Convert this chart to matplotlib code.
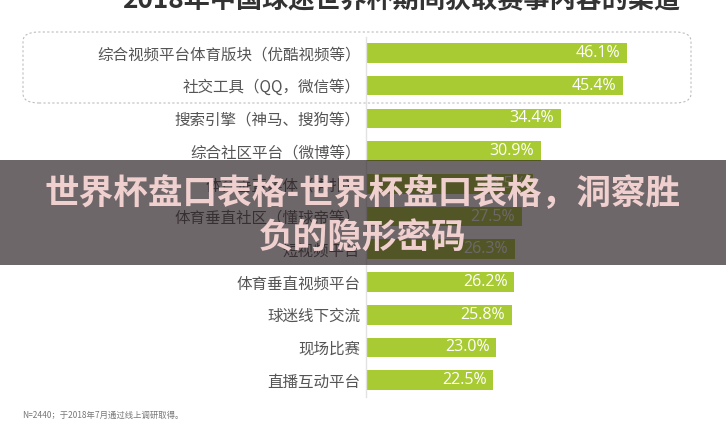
import matplotlib.pyplot as plt
from matplotlib.patches import FancyBboxPatch, Rectangle

plt.rcParams['font.family'] = ['Noto Sans CJK SC', 'DejaVu Sans']

channels = [
    '综合视频平台体育版块（优酷视频等）',
    '社交工具（QQ，微信等）',
    '搜索引擎（神马、搜狗等）',
    '综合社区平台（微博等）',
    '体育垂直媒体（虎扑）',
    '体育垂直社区（懂球帝等）',
    '短视频平台',
    '体育垂直视频平台',
    '球迷线下交流',
    '现场比赛',
    '直播互动平台',
]
shares = [46.1, 45.4, 34.4, 30.9, 29.5, 27.5, 26.3, 26.2, 25.8, 23.0, 22.5]

title = '2018年中国球迷世界杯期间获取赛事内容的渠道'
note = 'N=2440；于2018年7月通过线上调研取得。'
banner = ['世界杯盘口表格-世界杯盘口表格，洞察胜', '负的隐形密码']

W, H = 726, 426
fig = plt.figure(figsize=(W / 100, H / 100), dpi=100)
fig.patch.set_facecolor('white')

# axes placed in pixel terms, 5.66 px per percent
ax = fig.add_axes([366 / W, 1 - 396.5 / H, 340 / W, 360 / H])
ax.set_xlim(0, 340 / 5.66)
ax.set_ylim(len(channels) - 0.5, -0.5)

ypos = range(len(channels))
ax.barh(ypos, shares, height=0.6, color='#a8ca32', zorder=2)
for y, v in zip(ypos, shares):
    ax.text(v - 1.2, y, f'{v:.1f}%', ha='right', va='center',
            color='white', fontsize=11.5, family=['Open Sans', 'DejaVu Sans'])

ax.set_yticks(list(ypos))
ax.set_yticklabels(channels, fontsize=11.2, color='#555555')
ax.tick_params(axis='y', length=0, pad=4)
ax.set_xticks([])
for s in ['top', 'right', 'bottom']:
    ax.spines[s].set_visible(False)
ax.spines['left'].set_color('#e2e2e2')
ax.spines['left'].set_linewidth(1.0)

# dashed rounded box around the top two rows
box = FancyBboxPatch((23 / W, 1 - 103 / H), 668 / W, 71 / H,
                     boxstyle='round,pad=0,rounding_size=0.022',
                     transform=fig.transFigure, fill=False,
                     edgecolor='#bdbdbd', linestyle=(0, (2, 2)), linewidth=0.8)
fig.patches.append(box)

fig.text(401 / W, 1 - 1 / H, title, ha='center', va='center',
         fontsize=18.8, fontweight='heavy', color='#333333')
fig.text(22 / W, 1 - 415 / H, note, ha='left', va='center',
         fontsize=6, color='#777777')

# dark overlay banner
overlay = Rectangle((0, 1 - 265 / H), 1, 105 / H, transform=fig.transFigure,
                    facecolor='#2a1f22', alpha=0.68, zorder=10)
fig.patches.append(overlay)
fig.text(0.5, 1 - 194 / H, banner[0], ha='center', va='center',
         fontsize=24.9, fontweight='heavy', color='#f0cfcf', zorder=11)
fig.text(0.5, 1 - 238 / H, banner[1], ha='center', va='center',
         fontsize=24.9, fontweight='heavy', color='#f0cfcf', zorder=11)

fig.savefig('out.png', dpi=100)
